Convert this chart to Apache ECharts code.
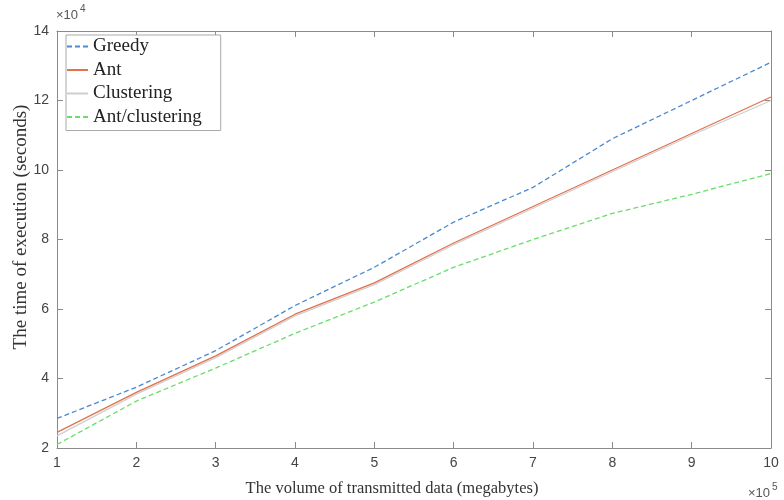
<!DOCTYPE html>
<html>
<head>
<meta charset="utf-8">
<script src="https://cdn.jsdelivr.net/npm/echarts@6/dist/echarts.min.js"></script>
<style>
    html, body { margin: 0; padding: 0; background: #fff; }
    #chart { width: 784px; height: 500px; }
</style>
</head>
<body>
<div id="chart"></div>
<script>
    // x in units of 1e5 MB, y in units of 1e4 s
    var volume = [1, 2, 3, 4, 5, 6, 7, 8, 9, 10];
    var greedy = [2.85, 3.75, 4.8, 6.1, 7.2, 8.5, 9.5, 10.9, 12.0, 13.1];
    var ant = [2.45, 3.6, 4.65, 5.85, 6.75, 7.9, 8.95, 10.0, 11.05, 12.1];
    var clustering = [2.35, 3.55, 4.6, 5.8, 6.7, 7.85, 8.9, 9.95, 11.0, 12.0];
    var antClustering = [2.1, 3.35, 4.3, 5.3, 6.2, 7.2, 8.0, 8.75, 9.3, 9.9];
    var seriesNames = ['Greedy', 'Ant', 'Clustering', 'Ant/clustering'];

    function pairs(ys) {
        var out = [];
        for (var i = 0; i < volume.length; i++) out.push([volume[i], ys[i]]);
        return out;
    }

    var axisColor = '#8a8a8a';
    var labelColor = '#444';
    var serif = 'Liberation Serif, Times New Roman, serif';

    var el = document.getElementById('chart');
    var myChart = echarts.init(el);
    var option = {
        animation: false,
        textStyle: { fontFamily: 'Liberation Sans, Arial' },
        grid: { left: 57, right: 13, top: 31, bottom: 52, containLabel: false, outerBoundsMode: 'none' },
        legend: {
            left: 66, top: 35,
            orient: 'vertical',
            itemWidth: 21, itemHeight: 20, itemGap: 4.5,
            itemStyle: { opacity: 0 },
            backgroundColor: '#fff',
            borderColor: '#aaa', borderWidth: 1,
            padding: [2, 19, 4, 0],
            textStyle: { fontFamily: serif, fontSize: 19, color: '#222' },
            data: seriesNames
        },
        xAxis: [
            {
                type: 'value', min: 1, max: 10, interval: 1,
                name: 'The volume of transmitted data (megabytes)',
                nameLocation: 'middle', nameGap: 32,
                nameTextStyle: { fontFamily: serif, fontSize: 16.5, color: '#333', padding: [0, 44, 0, 0] },
                axisLine: { lineStyle: { color: axisColor } },
                axisTick: { inside: true, length: 6, lineStyle: { color: axisColor } },
                axisLabel: { color: labelColor, fontSize: 14, margin: 8 },
                splitLine: { show: false }
            },
            {
                type: 'value', min: 1, max: 10, interval: 1, position: 'top',
                axisLine: { show: true, lineStyle: { color: axisColor } },
                axisTick: { inside: true, length: 6, lineStyle: { color: axisColor } },
                axisLabel: { show: false },
                splitLine: { show: false }
            }
        ],
        yAxis: [
            {
                type: 'value', min: 2, max: 14, interval: 2,
                axisLine: { show: true, lineStyle: { color: axisColor } },
                axisTick: { show: true, inside: true, length: 6, lineStyle: { color: axisColor } },
                axisLabel: { color: labelColor, fontSize: 14, margin: 8 },
                splitLine: { show: false }
            },
            {
                type: 'value', min: 2, max: 14, interval: 2, position: 'right',
                axisLine: { show: true, lineStyle: { color: axisColor } },
                axisTick: { show: true, inside: true, length: 6, lineStyle: { color: axisColor } },
                axisLabel: { show: false },
                splitLine: { show: false }
            }
        ],
        graphic: [
            {
                // y axis title
                type: 'text', x: 21, y: 227, rotation: Math.PI / 2,
                style: {
                    text: 'The time of execution (seconds)', fill: '#333',
                    font: '19px Liberation Serif', align: 'center', verticalAlign: 'middle'
                }
            },
            {
                type: 'text', left: 56, top: 9,
                style: { text: '×10', fill: '#555', font: '13px Liberation Sans' }
            },
            {
                type: 'text', left: 80, top: 4,
                style: { text: '4', fill: '#555', font: '10px Liberation Sans' }
            },
            {
                type: 'text', left: 748, top: 487,
                style: { text: '×10', fill: '#555', font: '13px Liberation Sans' }
            },
            {
                type: 'text', left: 772, top: 482,
                style: { text: '5', fill: '#555', font: '10px Liberation Sans' }
            }
        ],
        series: [
            {
                name: seriesNames[0], type: 'line', data: pairs(greedy),
                symbol: 'none', z: 4,
                lineStyle: { color: '#4a8ad0', width: 1.3, type: [5, 3] },
                itemStyle: { color: '#4a8ad0' }
            },
            {
                name: seriesNames[1], type: 'line', data: pairs(ant),
                symbol: 'none', z: 3,
                lineStyle: { color: '#e0724e', width: 1.3 },
                itemStyle: { color: '#e0724e' }
            },
            {
                name: seriesNames[2], type: 'line', data: pairs(clustering),
                symbol: 'none', z: 2,
                lineStyle: { color: '#cfcfcf', width: 1.3 },
                itemStyle: { color: '#cfcfcf' }
            },
            {
                name: seriesNames[3], type: 'line', data: pairs(antClustering),
                symbol: 'none', z: 3,
                lineStyle: { color: '#6ade6a', width: 1.3, type: [5, 3] },
                itemStyle: { color: '#6ade6a' }
            }
        ]
    };
    myChart.setOption(option);
</script>
</body>
</html>
